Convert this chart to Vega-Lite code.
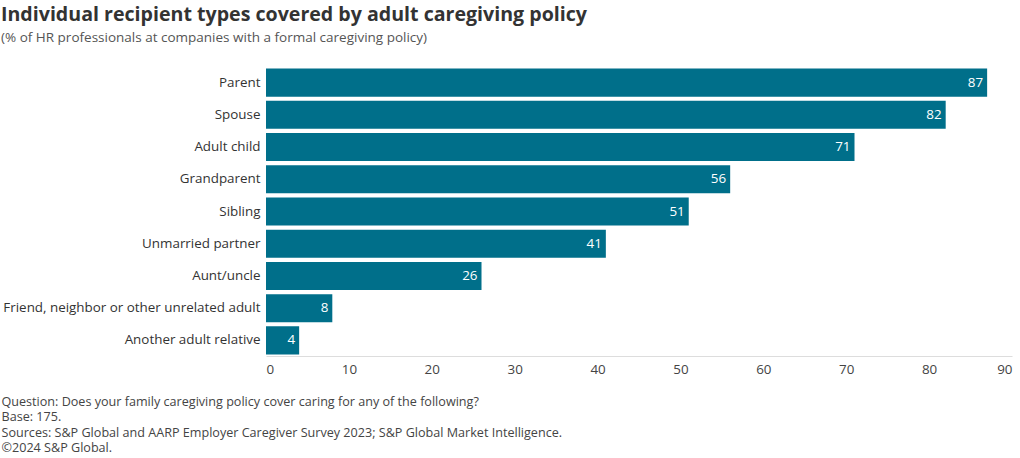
{
  "$schema": "https://vega.github.io/schema/vega-lite/v6.json",
  "width": 746,
  "height": 289,
  "autosize": {"type": "none"},
  "padding": {"left": 266, "top": 67, "right": 8, "bottom": 102},
  "background": "white",
  "title": {
    "text": "Individual recipient types covered by adult caregiving policy",
    "subtitle": "(% of HR professionals at companies with a formal caregiving policy)",
    "anchor": "start",
    "frame": "group",
    "dx": -265,
    "offset": 22,
    "font": "Open Sans",
    "fontSize": 19.6,
    "fontWeight": "bold",
    "color": "#333333",
    "subtitleFont": "Open Sans",
    "subtitleFontSize": 13.5,
    "subtitleColor": "#555555",
    "subtitlePadding": 5
  },
  "data": {
    "values": [
      {"type": "Parent", "pct": 87},
      {"type": "Spouse", "pct": 82},
      {"type": "Adult child", "pct": 71},
      {"type": "Grandparent", "pct": 56},
      {"type": "Sibling", "pct": 51},
      {"type": "Unmarried partner", "pct": 41},
      {"type": "Aunt/uncle", "pct": 26},
      {"type": "Friend, neighbor or other unrelated adult", "pct": 8},
      {"type": "Another adult relative", "pct": 4}
    ]
  },
  "config": {
    "view": {"stroke": null},
    "font": "Open Sans"
  },
  "encoding": {
    "y": {
      "field": "type",
      "type": "nominal",
      "sort": null,
      "scale": {"paddingInner": 0.13, "paddingOuter": 0.05},
      "axis": {
        "title": null,
        "domain": false,
        "ticks": false,
        "labelPadding": 6,
        "labelFontSize": 13.4,
        "labelColor": "#333333",
        "labelLimit": 0,
        "labelFont": "Open Sans"
      }
    },
    "x": {
      "field": "pct",
      "type": "quantitative",
      "scale": {"domain": [0, 90], "nice": false},
      "axis": {
        "values": [0, 10, 20, 30, 40, 50, 60, 70, 80, 90],
        "grid": false,
        "ticks": false,
        "domainColor": "#dddddd",
        "labelPadding": 6,
        "labelFontSize": 13.4,
        "labelColor": "#444444",
        "labelFont": "Open Sans",
        "title": [
          "Question: Does your family caregiving policy cover caring for any of the following?",
          "Base: 175.",
          "Sources: S&P Global and AARP Employer Caregiver Survey 2023; S&P Global Market Intelligence.",
          "©2024 S&P Global."
        ],
        "titleFont": "Open Sans",
        "titleFontSize": 12.6,
        "titleFontWeight": "normal",
        "titleColor": "#444444",
        "titleAlign": "left",
        "titleAnchor": "start",
        "titleBaseline": "top",
        "titleX": -265,
        "titleY": 39,
        "titleLineHeight": 15.6
      }
    }
  },
  "layer": [
    {"mark": {"type": "bar", "color": "#006F8A"}},
    {
      "mark": {"type": "text", "align": "right", "dx": -4, "color": "white", "fontSize": 13.4, "font": "Open Sans"},
      "encoding": {"text": {"field": "pct", "type": "quantitative"}}
    }
  ]
}
